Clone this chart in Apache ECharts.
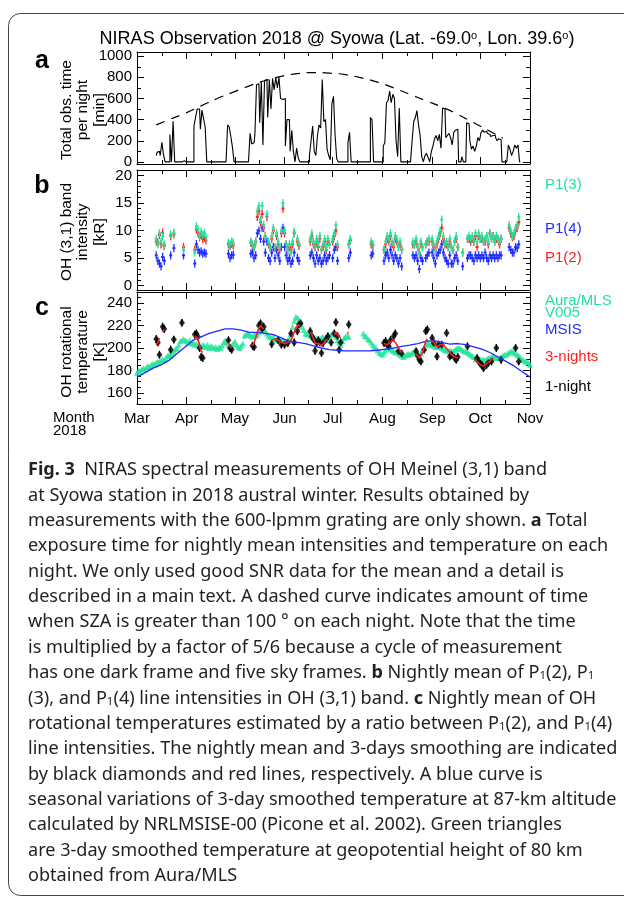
<!DOCTYPE html>
<html><head><meta charset="utf-8">
<script src="https://cdn.jsdelivr.net/npm/echarts@6.0.0/dist/echarts.min.js"></script>
<style>html,body{margin:0;padding:0;background:#fff}#c{width:624px;height:902px}</style>
</head><body><div id="c"></div>
<script>
// ---------- axes / ticks ----------
const monthStarts = [0, 31, 61, 92, 122, 153, 184, 214, 245];   // days since 1 Mar 2018
const monthLabels = ['Mar', 'Apr', 'May', 'Jun', 'Jul', 'Aug', 'Sep', 'Oct', 'Nov'];
const monthMids = [15.5, 46, 76.5, 107, 137.5, 168.5, 199, 229.5];
const yTicksA = [0, 200, 400, 600, 800, 1000];
const yMinorA = [100, 300, 500, 700, 900];
const yTicksB = [0, 5, 10, 15, 20];
const yMinorB = [1, 2, 3, 4, 6, 7, 8, 9, 11, 12, 13, 14, 16, 17, 18, 19];
const yTicksC = [160, 180, 200, 220, 240];
const yMinorC = [155, 165, 170, 175, 185, 190, 195, 205, 210, 215, 225, 230, 235, 245];

// ---------- panel a: total observation time per night [min] ----------
const obsStartDay = 12;
const obsTime = [
  60, 90, 100, 60, 185, 70, 0, 0, 0, 260, 0, 385, 0,
  0, 0, 10, 0, 10, 0, 0, 0, 0, 0, 0,
  340, 420, 500, 500, 310, 490, 410, 330, 0,
  0, 0, 0, 0, 0, 0, 0, 0, 0, 0, 0, 0,
  350, 330, 240, 140, 0,
  0, 0, 0, 0, 0, 0, 0, 0, 0,
  270, 170, 180, 260, 730, 740, 370, 760, 160, 770, 780, 420, 780, 500, 790, 680, 800, 700, 800, 600, 590, 600, 150, 400, 400, 100, 300, 100, 0,
  130, 40, 0, 0, 0, 0, 0, 0,
  60, 200, 340, 100, 60, 250, 350, 320, 780, 380, 400, 120, 60, 20, 550, 620, 250, 30,
  0, 0, 0, 0, 0, 0, 180, 280, 0,
  0, 0, 0, 0, 0, 0, 0, 0, 0, 0, 0,
  420, 400, 0, 0, 0, 0, 0, 0,
  150, 180, 560, 580, 670, 560, 640, 600, 200, 50, 510, 0,
  0, 0, 0, 0, 0, 0,
  200, 380, 420, 485, 350, 250, 50,
  0, 60, 80, 40, 0,
  100, 150, 220, 250, 200, 260, 130, 510, 500, 230, 250, 270, 230, 160, 280, 300, 310, 0, 0, 50, 0, 0, 370, 360, 200,
  120, 150, 100,
  150, 230, 200, 280, 300, 280, 290, 270, 260, 240, 250, 250, 230, 200, 220, 210, 0,
  0, 0, 0,
  160, 120, 60, 100, 160, 130, 160, 0
];
const szaDays = [12, 20, 30, 40, 50, 60, 70, 80, 90, 100, 110, 120, 130, 140, 150, 160, 170, 180, 190, 200, 210, 220, 228];
const szaTime = [350, 400, 460, 530, 600, 660, 720, 770, 810, 835, 845, 840, 825, 795, 755, 700, 640, 580, 520, 450, 370, 290, 225];

// ---------- panel b: OH (3,1) line intensities [kR] ----------
const nightsB = [
  12, 13, 14, 15, 16, 17, 21, 23, 29,
  36, 37, 38, 39, 40, 41, 42, 43,
  57, 58, 59, 60,
  71, 72, 73, 74, 75, 76, 77, 78, 79, 80, 81, 82, 83, 84, 85, 86, 87, 88, 89, 90, 91, 92, 93, 94, 95, 96, 97, 98,
  100, 101,
  108, 109, 110, 111, 112, 113, 114, 115, 116, 117, 118, 119, 120, 122, 123, 124, 125,
  132, 133,
  146, 147,
  154, 155, 156, 157, 158, 159, 160, 161, 162, 163, 164, 165,
  172, 173, 174, 175, 176, 177, 178, 180, 181, 182,
  184, 185, 186, 187, 188, 189, 190, 191, 192, 193, 194, 195, 196, 197, 198, 199, 200, 203, 206, 207, 208, 209, 210, 211,
  212, 213, 214, 215, 216, 217, 218, 219, 220, 221, 222, 223, 224, 225, 226, 227,
  232, 233, 234, 235, 236, 237, 238
];
const p13 = [
  8.5, 7.5, 9.5, 8.0, 9.0, 7.5, 9.3, 9.6, 6.5,
  6.0, 10.8, 10.2, 9.0, 9.8, 9.2, 9.6, 8.8,
  7.8, 7.5, 8.0, 7.8,
  8.0, 7.5, 7.0, 8.0, 13.5, 14.5, 12.0, 14.5, 11.0, 9.0, 13.0, 8.0, 7.0, 9.0, 10.5, 7.0, 9.5, 8.0, 7.0, 10.0, 15.0, 10.0, 7.5, 6.5, 7.5, 6.0, 8.0, 9.8,
  8.5, 7.5,
  8.5, 9.5, 8.0, 7.0, 8.5, 7.5, 9.0, 6.5, 7.5, 8.5, 7.0, 8.5, 7.5, 8.5, 9.5, 11.0, 7.5,
  7.5, 8.5,
  8.0, 7.5,
  6.5, 8.0, 9.0, 8.5, 9.5, 8.0, 7.5, 9.0, 8.5, 7.0, 8.0, 6.5,
  8.0, 7.5, 8.5, 7.0, 6.0, 8.0, 7.0, 7.5, 8.0, 8.5,
  8.5, 7.5, 6.5, 8.0, 9.0, 10.0, 12.0, 9.0, 7.5, 8.0, 7.0, 8.5, 7.0, 6.5, 8.0, 9.0, 7.0, 6.0, 8.5, 9.0, 8.5, 9.0, 8.0, 9.5,
  8.0, 9.5, 8.5, 9.0, 8.0, 8.5, 9.0, 8.0, 9.5, 8.5, 9.0, 8.0, 9.0, 8.5, 8.0, 8.5,
  11.0, 10.0, 9.0, 9.5, 10.5, 11.0, 12.5
];
const p12 = [
  8.0, 7.8, 9.2, 7.5, 9.6, 7.2, 9.0, 9.3, 7.0,
  6.5, 10.2, 9.6, 8.8, 9.2, 8.5, 8.7, 8.2,
  7.5, 7.2, 7.6, 7.3,
  7.8, 7.2, 7.0, 8.0, 12.5, 13.5, 11.5, 13.0, 10.5, 9.0, 12.5, 7.5, 7.0, 8.5, 10.0, 6.8, 9.0, 7.5, 6.5, 9.5, 14.0, 9.5, 7.5, 6.5, 7.0, 6.5, 7.5, 9.5,
  8.0, 7.2,
  8.0, 9.0, 7.5, 7.0, 8.0, 7.0, 8.5, 6.5, 7.0, 8.0, 6.5, 8.0, 7.5, 8.0, 9.0, 10.0, 7.0,
  7.5, 8.2,
  7.5, 7.3,
  6.5, 7.5, 8.5, 8.0, 9.0, 7.5, 7.0, 8.5, 8.0, 7.0, 7.5, 6.5,
  7.5, 7.5, 8.0, 7.0, 6.0, 7.5, 7.0, 7.5, 8.0, 8.0,
  8.0, 7.0, 6.5, 7.5, 8.5, 9.5, 10.5, 8.5, 7.5, 7.5, 7.0, 8.0, 7.0, 6.5, 8.0, 8.5, 7.0, 6.0, 8.5, 8.5, 8.0, 8.5, 8.0, 9.0,
  7.0, 9.0, 8.5, 8.5, 8.0, 8.0, 9.0, 7.5, 9.5, 8.5, 9.0, 8.0, 8.5, 8.5, 7.5, 8.5,
  10.5, 9.5, 8.8, 9.0, 10.0, 10.5, 11.5
];
const p14 = [
  5.5, 4.5, 4.0, 3.5, 5.2, 4.5, 5.5, 6.8, 5.5,
  4.0, 7.5, 6.5, 6.0, 6.2, 5.8, 6.0, 5.8,
  5.8, 5.0, 5.5, 5.6,
  5.8, 6.0, 5.0, 5.5, 9.5, 10.0, 8.5, 10.5, 8.0, 6.0, 8.0, 5.0, 4.5, 6.0, 7.0, 5.0, 6.5, 5.5, 4.5, 7.0, 10.5, 7.0, 5.5, 4.5, 5.0, 4.0, 4.5, 6.0,
  5.0, 4.5,
  5.5, 6.0, 5.0, 4.0, 5.5, 4.5, 5.0, 4.0, 4.5, 5.5, 4.5, 5.0, 5.5, 5.0, 6.5, 7.0, 4.5,
  5.0, 6.0,
  5.5, 5.8,
  4.5, 5.5, 6.0, 5.0, 6.5, 5.5, 4.5, 5.5, 5.0, 4.0, 5.0, 3.5,
  5.5, 5.0, 5.5, 4.5, 3.0, 5.0, 4.5, 5.0, 5.5, 6.0,
  6.0, 5.0, 4.0, 5.5, 6.0, 6.5, 7.5, 6.0, 5.0, 4.5, 4.0, 5.5, 4.0, 4.0, 5.0, 5.5, 4.5, 3.5, 5.0, 5.5, 5.5, 5.0, 4.5, 5.5,
  5.0, 5.5, 5.0, 5.5, 5.0, 6.0, 5.0, 4.5, 5.5, 5.0, 5.5, 5.0, 5.5, 5.0, 5.5, 5.5,
  7.0, 6.5, 6.0, 6.0, 7.0, 6.8, 7.5
];
const errB = 0.75;

// ---------- panel c: rotational temperature [K] ----------
const nightsT = [12, 13, 14, 16, 17, 21, 23, 28, 36, 37, 38, 39, 40, 41, 57, 58, 59, 72, 73, 76, 77, 78, 79, 84, 88, 90, 92, 94, 96, 98, 100, 101, 102, 108, 109, 110, 111, 112, 113, 114, 115, 116, 118, 119, 121, 123, 124, 125, 126, 127, 132, 154, 155, 156, 157, 158, 160, 161, 163, 165, 174, 175, 176, 177, 179, 180, 181, 184, 185, 187, 188, 190, 193, 195, 196, 198, 199, 200, 206, 212, 213, 214, 215, 216, 218, 219, 221, 224, 227, 236, 238];
const tempT = [208, 205, 194, 219, 217, 198.5, 207.5, 222.5, 212, 213, 210, 200, 192, 191, 207, 200, 198.5, 202, 201, 220, 222, 217, 219, 203.5, 207, 203, 203, 204.5, 213, 205, 215, 221, 222, 215, 210.5, 208, 197.5, 204.5, 207, 205, 195.5, 204.5, 208, 210.5, 205, 213, 223, 210.5, 198.5, 205, 221, 204.5, 206, 203, 201.5, 207, 210.5, 213, 197, 195, 197, 193, 189.5, 188, 198.5, 215, 216.5, 209, 204.5, 192.5, 203, 203, 213.5, 192.5, 194, 191, 189.5, 192, 201.5, 191, 188, 186, 185, 182, 185, 186.5, 188, 200, 189.5, 200, 188];
const errT = 3.5;
const redDays = [12, 13, 14, null, 16, 17, null, 36, 37, 38, 39, 40, 41, null, 57, 58, 59, null, 72, 73, 74, 75, 76, 77, 78, 79, null, 84, 85, 86, 87, 88, 89, 90, 91, 92, 93, 94, 95, 96, 97, 98, 99, 100, 101, 102, null, 108, 109, 110, 111, 112, 113, 114, 115, 116, 117, 118, 119, null, 123, 124, 125, 126, 127, null, 131, 132, null, 154, 155, 156, 157, 158, 159, 160, 161, 162, 163, 164, 165, null, 174, 175, 176, 177, 178, 179, 180, 181, null, 184, 185, 186, 187, 188, 189, 190, 191, 192, 193, 194, 195, 196, 197, 198, 199, 200, null, 210, 211, 212, 213, 214, 215, 216, 217, 218, 219, 220, 221, 222];
const redT = [203, 205, 209, null, 214, 217, null, 211, 211, 208, 202, 197, 196, null, 205, 202, 200, null, 202, 205, 209, 214, 218, 220, 219, 217, null, 207, 207, 208, 208, 207, 206, 205, 204, 204, 205, 205, 204, 207, 210, 214, 218, 220, 221, 220, null, 214, 212, 208, 204, 203, 204, 203, 202, 203, 205, 207, 208, null, 212, 214, 212, 210, 209, null, 213, 214, null, 204, 204, 203, 203, 205, 206, 207, 206, 203, 200, 198, 196, null, 195, 193, 191, 192, 196, 201, 206, 208, null, 207, 205, 203, 201, 202, 203, 204, 203, 201, 200, 198, 196, 194, 193, 192, 191, 191, null, 190, 189, 188, 187, 185, 184, 184, 185, 186, 187, 188, 190, 191];
const msisDays = [0, 5, 10, 15, 20, 25, 30, 35, 40, 45, 50, 55, 60, 65, 70, 75, 80, 85, 90, 95, 100, 105, 110, 115, 120, 125, 130, 135, 140, 145, 150, 155, 160, 165, 170, 175, 180, 185, 190, 195, 200, 205, 210, 215, 220, 225, 230, 235, 240, 245];
const msisT = [174, 178, 182, 185, 189, 195, 201, 207, 210, 213, 215, 217, 217, 216, 214, 214, 213, 212, 209, 206, 205, 204, 202, 200, 198.5, 198, 197.5, 197.5, 197.5, 197.5, 198, 199, 200, 201.5, 202.5, 204, 206, 206.5, 205, 203.5, 204, 203, 201, 199, 196, 192, 188, 184, 179, 174];
const mlsStartDay = 0;
const mlsT = [
  178, 180, 179, 181, 182, 181, 183, 184, 183, 185, 186,
  185, 187, 188, 187, 189, 190, 189, 191, 193, 194,
  193, 195, 197, 199, 200, 203, 206, 207, 208, 207,
  206, 205, 207, 204, 205, 203, 204, 202, 203, 201,
  203, 202, 201, 203, 200, 202, 201, 200, 201, 199,
  201, 200, 202, 205, 207, 205, 203, 201, 202, 204,
  206, 203, 201, 200, 202, 204, 211, 212, 213, 212,
  211, 210, 212, 211, 212, 214, 217, 219, 217, 215,
  213, 211, 210, 209, 210, 208, 207, 208, 207, 206,
  207, 206, 205, 207, 209, 213, 219, 224, 228, 227,
  225, 222, 219, 216, 213, 212, 213, 211, 212, 210,
  209, 208, 207, 208, 209, 210, 208, 207, 209, 210,
  212, 213, 212, 210, 207, 205, 203, 206, 209, 210, 211, 210,
  null, null, null, null, null, null, null, null,
  213, 211, 210, 208, 207, 205, 203, 201, 200, 198,
  196, 195, 194, 196, 198, 200, 201, 199, 198, 197,
  196, 197, 195, 194, 193, 192, 193, 194, 195, 194,
  195, 196, 197, 196, 194, 193, 195, 198, 200, 203,
  205, 204, 203, 203, 202, 201, 202, 201, 201, 200,
  199, 198, 198, 197, 198, 197, 197, 198, 199, 200,
  200, 199, 198, 197, 197, 196, 195, 194, 193, 192,
  190, 190, 189, 190, 189, 190, 189, 190, 191, 191,
  192, 193, 192, 191, 191, 191, 192, 193, 194, 194,
  195, 196, 197, 197, 196, 195, 194, 193, 191, 190,
  189, 188, 188, 187, 185
];

// ---------- caption ----------
const captionLines = [
  '{b|Fig. 3}  NIRAS spectral measurements of OH Meinel (3,1) band',
  'at Syowa station in 2018 austral winter. Results obtained by',
  'measurements with the 600-lpmm grating are only shown. {b|a} Total',
  'exposure time for nightly mean intensities and temperature on each',
  'night. We only used good SNR data for the mean and a detail is',
  'described in a main text. A dashed curve indicates amount of time',
  'when SZA is greater than 100 ° on each night. Note that the time',
  'is multiplied by a factor of 5/6 because a cycle of measurement',
  'has one dark frame and five sky frames. {b|b} Nightly mean of P{s|1}(2), P{s|1}',
  '(3), and P{s|1}(4) line intensities in OH (3,1) band. {b|c} Nightly mean of OH',
  'rotational temperatures estimated by a ratio between P{s|1}(2), and P{s|1}(4)',
  'line intensities. The nightly mean and 3-days smoothing are indicated',
  'by black diamonds and red lines, respectively. A blue curve is',
  'seasonal variations of 3-day smoothed temperature at 87-km altitude',
  'calculated by NRLMSISE-00 (Picone et al. 2002). Green triangles',
  'are 3-day smoothed temperature at geopotential height of 80 km',
  'obtained from Aura/MLS'
];

// ---------- build ----------
const F = "'Liberation Sans', Arial, Helvetica, sans-serif";
const CF = "'Noto Sans', 'Open Sans', sans-serif";
const GREEN = '#21e39b', RED = '#ff1f1f', BLUE = '#1f2dff';
const grids = [
  { left: 137, top: 52, width: 393, height: 112 },
  { left: 137, top: 170, width: 393, height: 120 },
  { left: 137, top: 292, width: 393, height: 112 }
];
const yRanges = [[-20, 1040], [-0.8, 21], [150, 250]];
const yMajors = [yTicksA, yTicksB, yTicksC];
const yMinors = [yMinorA, yMinorB, yMinorC];

const xAxes = [], yAxes = [];
function ax(gi, pos, min, max, ticks, len, showLine, labels) {
  const a = {
    type: 'value', gridIndex: gi, position: pos, min: min, max: max,
    splitLine: { show: false },
    axisLine: { show: showLine, onZero: false, lineStyle: { color: '#000', width: 1 } },
    axisTick: { show: true, inside: true, length: len, customValues: ticks, lineStyle: { color: '#000', width: 1 } },
    axisLabel: { show: false }
  };
  if (labels) a.axisLabel = labels;
  return a;
}
for (let g = 0; g < 3; g++) {
  const xl = g === 2 ? {
    show: true, customValues: monthStarts, margin: 7, color: '#000', fontSize: 15, fontFamily: F,
    formatter: v => monthLabels[monthStarts.indexOf(v)]
  } : null;
  xAxes.push(ax(g, 'bottom', 0, 245, monthStarts, 7, true, xl));
  xAxes.push(ax(g, 'top', 0, 245, monthStarts, 7, true, null));
  xAxes.push(ax(g, 'bottom', 0, 245, monthMids, 4, false, null));
  xAxes.push(ax(g, 'top', 0, 245, monthMids, 4, false, null));
  const r = yRanges[g];
  const yl = { show: true, customValues: yMajors[g], margin: 5, color: '#000', fontSize: 15, fontFamily: F, formatter: v => String(v) };
  yAxes.push(ax(g, 'left', r[0], r[1], yMajors[g], 7, true, yl));
  yAxes.push(ax(g, 'right', r[0], r[1], yMajors[g], 7, true, null));
  yAxes.push(ax(g, 'left', r[0], r[1], yMinors[g], 4, false, null));
  yAxes.push(ax(g, 'right', r[0], r[1], yMinors[g], 4, false, null));
}

function errBars(xi, yi, rows, color, capW, lw) {
  return {
    type: 'custom', xAxisIndex: xi, yAxisIndex: yi, data: rows, silent: true,
    renderItem: function (params, api) {
      const x = api.value(0), y = api.value(1), e = api.value(2);
      const p = api.coord([x, y]), lo = api.coord([x, y - e]), hi = api.coord([x, y + e]);
      return {
        type: 'group', children: [
          { type: 'line', shape: { x1: p[0], y1: lo[1], x2: p[0], y2: hi[1] }, style: { stroke: color, lineWidth: lw } },
          { type: 'line', shape: { x1: p[0] - capW, y1: p[1], x2: p[0] + capW, y2: p[1] }, style: { stroke: color, lineWidth: 2 } }
        ]
      };
    }
  };
}

const series = [];
// panel a
series.push({
  type: 'line', xAxisIndex: 0, yAxisIndex: 0, step: 'middle', showSymbol: false, silent: true,
  lineStyle: { color: '#000', width: 1.1 },
  data: obsTime.map((v, k) => [obsStartDay + k, v])
});
series.push({
  type: 'line', xAxisIndex: 0, yAxisIndex: 0, smooth: true, showSymbol: false, silent: true,
  lineStyle: { color: '#000', width: 1.2, type: [9, 7] },
  data: szaDays.map((d, k) => [d, szaTime[k]])
});
// panel b
series.push(errBars(4, 4, nightsB.map((d, k) => [d, p14[k], errB]), BLUE, 1.5, 1.3));
series.push(errBars(4, 4, nightsB.map((d, k) => [d, p12[k], errB]), RED, 1.5, 1.3));
series.push(errBars(4, 4, nightsB.map((d, k) => [d, p13[k], errB]), GREEN, 1.5, 1.3));
// panel c
series.push({
  type: 'scatter', xAxisIndex: 8, yAxisIndex: 8, symbol: 'triangle', symbolSize: 6, silent: true,
  itemStyle: { color: GREEN },
  data: mlsT.map((v, k) => v === null ? null : [mlsStartDay + k, v]).filter(p => p !== null)
});
series.push({
  type: 'line', xAxisIndex: 8, yAxisIndex: 8, showSymbol: false, silent: true,
  lineStyle: { color: BLUE, width: 1.3 },
  data: msisDays.map((d, k) => [d, msisT[k]])
});
let seg = [];
const segs = [];
redDays.forEach((d, k) => {
  if (d === null) { if (seg.length) segs.push(seg); seg = []; }
  else seg.push([d, redT[k]]);
});
if (seg.length) segs.push(seg);
segs.forEach(s => series.push({
  type: 'line', xAxisIndex: 8, yAxisIndex: 8, showSymbol: false, silent: true,
  lineStyle: { color: RED, width: 1.6 }, data: s
}));
series.push(errBars(8, 8, nightsT.map((d, k) => [d, tempT[k], errT]), '#000', 0, 1.2));
series.push({
  type: 'scatter', xAxisIndex: 8, yAxisIndex: 8, symbol: 'diamond', symbolSize: [6, 8], silent: true,
  itemStyle: { color: '#000' },
  data: nightsT.map((d, k) => [d, tempT[k]])
});

// graphic texts
function txt(x, y, text, opts) {
  return Object.assign({
    type: 'text', x: x, y: y, silent: true,
    style: Object.assign({
      text: text, fontSize: 15, fontFamily: F, fill: '#000',
      align: 'left', textAlign: 'left', verticalAlign: 'middle', textVerticalAlign: 'middle'
    }, opts && opts.style)
  }, opts && opts.el);
}
const graphic = [];
graphic.push({ type: 'rect', silent: true, shape: { x: 8.5, y: 13.5, width: 700, height: 882, r: 12 }, style: { fill: 'none', stroke: '#444', lineWidth: 1 } });
graphic.push(txt(337, 39, 'NIRAS Observation 2018 @ Syowa (Lat. -69.0{o|o}, Lon. 39.6{o|o})', {
  style: { fontSize: 18, align: 'center', textAlign: 'center', rich: { o: { fontSize: 11, fontFamily: F, verticalAlign: 'top', lineHeight: 10 } } }
}));
[['a', 61], ['b', 186], ['c', 308]].forEach(p => graphic.push(txt(42, p[1], p[0], {
  style: { fontSize: 25, fontWeight: 'bold', align: 'center', textAlign: 'center' }
})));
[['Total obs. time\nper night\n[min]', 110], ['OH (3,1) band\nintensity\n[kR]', 232], ['OH rotational\ntemperature\n[K]', 352]].forEach(p =>
  graphic.push(txt(83, p[1], p[0], {
    style: { fontSize: 15.5, lineHeight: 16.5, align: 'center', textAlign: 'center' },
    el: { rotation: Math.PI / 2 }
  })));
[['P1(3)', 185, GREEN], ['P1(4)', 229, BLUE], ['P1(2)', 258, RED],
 ['Aura/MLS', 301, GREEN], ['V005', 313, GREEN], ['MSIS', 330, BLUE], ['3-nights', 357, RED], ['1-night', 387, '#000']].forEach(p =>
  graphic.push(txt(545, p[1], p[0], { style: { fill: p[2] } })));
graphic.push(txt(53, 418, 'Month'));
graphic.push(txt(53, 431, '2018'));
captionLines.forEach((line, k) => graphic.push(txt(28, 470 + k * 25.375, line, {
  style: {
    fontSize: 18.1, fontFamily: CF, fill: '#231f20',
    rich: {
      b: { fontSize: 18.1, fontFamily: CF, fontWeight: 'bold', fill: '#231f20' },
      s: { fontSize: 11.5, fontFamily: CF, fill: '#231f20', verticalAlign: 'bottom', lineHeight: 8 }
    }
  }
})));

const chart = echarts.init(document.getElementById('c'), null, { renderer: 'canvas' });
chart.setOption({
  animation: false,
  backgroundColor: '#fff',
  grid: grids,
  xAxis: xAxes,
  yAxis: yAxes,
  series: series,
  graphic: graphic
});
</script></body></html>
